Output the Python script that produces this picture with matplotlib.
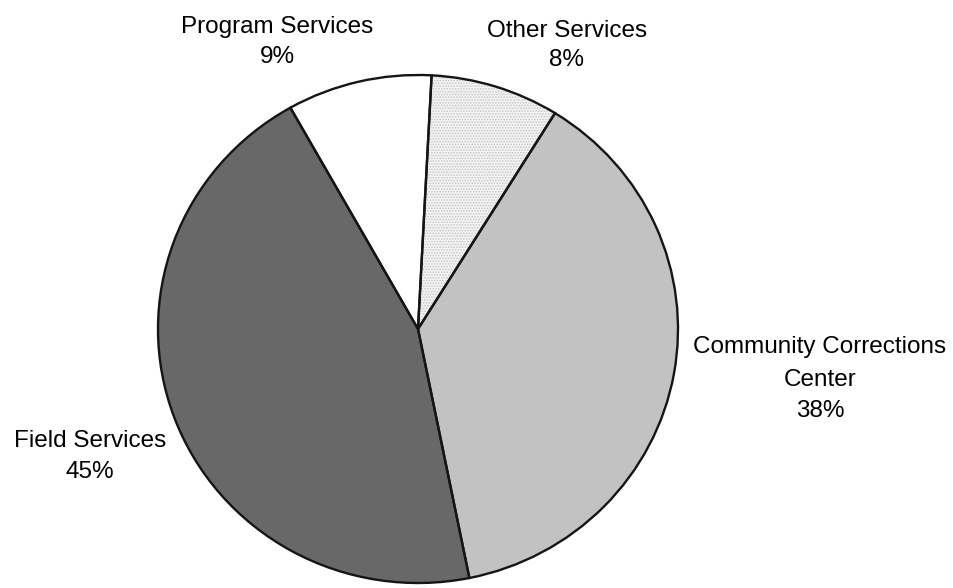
import matplotlib
matplotlib.use("Agg")
import matplotlib.pyplot as plt
from matplotlib.patches import Wedge

# Budget share by program area
categories = ["Other Services", "Community Corrections\nCenter", "Field Services", "Program Services"]
shares = [8, 38, 45, 9]
colors = ["#f4f4f4", "#c2c2c2", "#686868", "#ffffff"]

plt.rcParams["font.family"] = ["Liberation Sans", "DejaVu Sans"]
plt.rcParams["hatch.linewidth"] = 0.8

W, H, DPI = 954, 588, 100
fig = plt.figure(figsize=(W / DPI, H / DPI), dpi=DPI)

# pie centre and radii in pixels (slightly squashed vertically)
cx, cy, rx, ry = 418, 329, 260, 254
ax = fig.add_axes([(cx - rx) / W, (H - cy - ry) / H, 2 * rx / W, 2 * ry / H])

wedges, _ = ax.pie(shares, colors=colors, startangle=87, counterclock=False,
                   radius=1, center=(0, 0), frame=True,
                   wedgeprops=dict(edgecolor="none", linewidth=0))
ax.set_aspect("auto")
ax.set_xlim(-1, 1)
ax.set_ylim(-1, 1)
ax.axis("off")

# dotted texture on the small light slice
w0 = wedges[0]
ax.add_patch(Wedge(w0.center, w0.r, w0.theta1, w0.theta2, facecolor="none",
                   edgecolor="#c6c6c6", linewidth=0, hatch="......", zorder=2))

# slice outlines on top
for w in wedges:
    ax.add_patch(Wedge(w.center, w.r, w.theta1, w.theta2, facecolor="none",
                       edgecolor="#151515", linewidth=1.7, zorder=3, clip_on=False))
    w.set_clip_on(False)

# label baselines (pixels): one entry per text line
label_x = [567, 820, 90, 277]
label_base = [[37, 66], [353, 386, 417], [447, 478], [33, 63]]
for name, pct, lx, bases in zip(categories, shares, label_x, label_base):
    lines = f"{name}\n{pct}%".split("\n")
    for line, by in zip(lines, bases):
        fig.text(lx / W, 1 - by / H, line, ha="center", va="baseline",
                 fontsize=17.5, color="black")

fig.savefig("out.png", dpi=DPI)
